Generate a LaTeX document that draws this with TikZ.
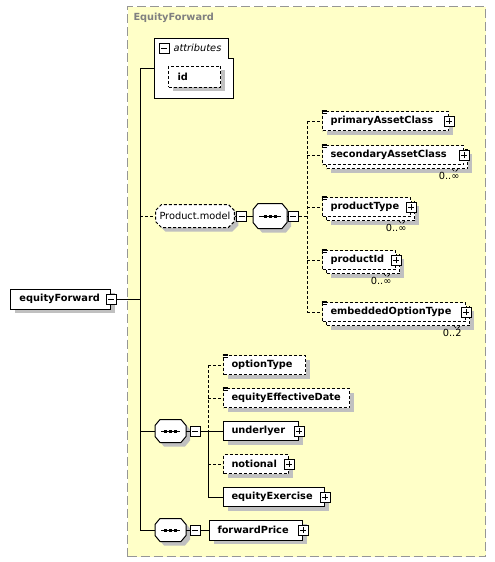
\documentclass[tikz,border=0pt]{standalone}
\usepackage{fontspec}
\setmainfont{DejaVu Sans}
\usetikzlibrary{shapes.misc,shadows}
\definecolor{bgyellow}{RGB}{255,255,200}
\definecolor{framegray}{RGB}{150,150,150}
\definecolor{shadowgray}{RGB}{192,192,192}
\definecolor{titlegray}{RGB}{128,128,128}
\newcommand\seqsym[1]{%
  \draw[fill=white,drop shadow={shadow xshift=4pt,shadow yshift=-4pt,fill=shadowgray,opacity=1}]
    ([xshift=5pt]#1.north west) -- ([xshift=-5pt]#1.north east) -- ([yshift=-6pt]#1.north east)
    -- ([yshift=6pt]#1.south east) -- ([xshift=-5pt]#1.south east) -- ([xshift=5pt]#1.south west)
    -- ([yshift=6pt]#1.south west) -- ([yshift=-6pt]#1.north west) -- cycle;
  \draw ([xshift=6pt]#1.west) -- ([xshift=-6pt]#1.east);
  \foreach \d in {-5,0,5} \fill ([xshift=\d pt]#1.center) ++(-1.5,-1.5) rectangle ++(3,3);}
\begin{document}
\begin{tikzpicture}[x=1pt,y=-1pt,line width=1pt,
  every node/.style={font=\fontsize{9.8}{11}\selectfont},
  dsh/.style={dash pattern=on 3pt off 2pt},
  shad/.style={drop shadow={shadow xshift=4pt,shadow yshift=-4pt,fill=shadowgray,opacity=1}},
  box/.style={draw=black,fill=white,anchor=west,inner ysep=0pt,inner xsep=8pt,
    minimum height=19pt,align=left,text width=#1,
    font=\bfseries\fontsize{9.8}{11}\selectfont},
  pmbox/.style={draw=black,fill=white,minimum size=10pt,inner sep=0pt,line width=1pt,solid},
  minus/.style={pmbox,path picture={
    \draw[line width=1pt] ([xshift=2pt]path picture bounding box.west) -- ([xshift=-2pt]path picture bounding box.east);}},
  plus/.style={pmbox,path picture={
    \draw[line width=1pt] ([xshift=2pt]path picture bounding box.west) -- ([xshift=-2pt]path picture bounding box.east);
    \draw[line width=1pt] ([yshift=2pt]path picture bounding box.south) -- ([yshift=-2pt]path picture bounding box.north);}},
  seqbox/.style={rectangle,inner sep=0pt,anchor=west},
  mult/.style={anchor=north east,inner sep=0pt,font=\fontsize{9.8}{11}\selectfont},
  lines icon/.pic={\draw[line width=0.6pt] (-0.5,-1) -- (4.5,-1) (-0.5,0.6) -- (4.5,0.6) (-0.5,2.2) -- (4.5,2.2);},
  notch/.pic={\draw[line width=0.7pt,dsh] (-3,0) -- (0,3) -- (3,0);}
]
\path[use as bounding box] (0,0) rectangle (495,562);
% frame
\node[draw=framegray,dash pattern=on 9pt off 4pt,fill=bgyellow,anchor=north west,
  minimum width=358pt,minimum height=550pt,inner sep=0pt] (frame) at (127,6) {};
\node[anchor=west,inner sep=0pt,text=titlegray,font=\bfseries\fontsize{9.8}{11}\selectfont] (ftitle) at (133,18) {EquityForward};

% root element
\node[box=82pt,inner xsep=9pt,minimum height=20pt,shad] (ef) at (10,299) {equityForward};
\node[minus] (efm) at (ef.east) {};
\coordinate (sp1) at (140,299);
\coordinate (vt) at (140,68);
\coordinate (vb) at (140,530);
\draw (efm.east) -- (sp1);
\draw (vt) -- (vb);

% attributes
\node[anchor=north west,minimum width=78pt,minimum height=59pt,inner sep=0pt] (attr) at (154,38) {};
\draw[fill=white] (attr.north west) -- ([xshift=-5pt]attr.north east) -- ([shift={(-5,20)}]attr.north east)
  -- ([yshift=-20pt]attr.north east) -- (attr.south east) -- (attr.south west) -- cycle;
\node[minus] (am) at (164,48) {};
\node[anchor=west,inner sep=0pt,font=\itshape\fontsize{9.8}{11}\selectfont] (atxt) at (173,48) {attributes};
\node[box=34pt,dsh,inner xsep=9pt,minimum height=21pt,shad] (id) at (168,76.5) {id};
\draw (vt) -- (vt -| attr.west);

% Product.model group
\node[chamfered rectangle,chamfered rectangle xsep=3pt,chamfered rectangle ysep=3pt,draw=black,fill=white,dsh,
  minimum width=75pt,minimum height=23pt,inner xsep=1pt,inner ysep=0pt,anchor=west,shad] (pm) at (155,216) {Product.model};
\node[minus] (pmm) at ([xshift=7pt]pm.east) {};
\draw (pm.east) -- (pmm.west);
\draw[dsh] (pm.west -| vt) -- (pm.west);

\node[seqbox,minimum width=33pt,minimum height=24pt] (s1) at (253,216) {};
\seqsym{s1}
\draw (pmm.east) -- (s1.west);
\node[minus] (s1m) at ([xshift=6pt]s1.east) {};
\draw (s1.east) -- (s1m.west);
\coordinate (c1) at (307,216);
\draw[dsh] (s1m.east) -- (c1);

% children of Product.model
\node[box=110pt,dsh,shad] (pac) at (322,121) {primaryAssetClass};
\node[plus] (pacp) at (pac.east) {};
\pic at (pac.north west) {lines icon};

\node[box=125pt,dsh,shad] (sacb) at (326,159) {};
\node[box=125pt,dsh] (sac) at (322,155) {secondaryAssetClass};
\node[plus] (sacp) at (sac.east) {};
\pic at (sac.north west) {lines icon};
\pic at ([xshift=-13pt]sacb.south east) {notch};
\node[mult] (sacm) at ([xshift=-8pt,yshift=-3pt]sacb.south east) {0..∞};

\node[box=72pt,dsh,shad] (ptb) at (326,211) {};
\node[box=72pt,dsh] (pt) at (322,207) {productType};
\node[plus] (ptp) at (pt.east) {};
\pic at (pt.north west) {lines icon};
\pic at ([xshift=-13pt]ptb.south east) {notch};
\node[mult] (ptm) at ([xshift=-8pt,yshift=-3pt]ptb.south east) {0..∞};

\node[box=57pt,dsh,shad] (pidb) at (326,264) {};
\node[box=57pt,dsh] (pid) at (322,260) {productId};
\node[plus] (pidp) at (pid.east) {};
\pic at (pid.north west) {lines icon};
\pic at ([xshift=-13pt]pidb.south east) {notch};
\node[mult] (pidm) at ([xshift=-8pt,yshift=-3pt]pidb.south east) {0..∞};

\node[box=127pt,dsh,shad] (eotb) at (326,316) {};
\node[box=127pt,dsh] (eot) at (322,312) {embeddedOptionType};
\node[plus] (eotp) at (eot.east) {};
\pic at (eot.north west) {lines icon};
\pic at ([xshift=-13pt]eotb.south east) {notch};
\node[mult] (eotm) at ([xshift=-8pt,yshift=-3pt]eotb.south east) {0..2};

\draw[dsh] (pac.west -| c1) -- (eot.west -| c1);
\draw[dsh] (pac.west -| c1) -- (pac.west);
\draw[dsh] (sac.west -| c1) -- (sac.west);
\draw[dsh] (pt.west -| c1) -- (pt.west);
\draw[dsh] (pid.west -| c1) -- (pid.west);
\draw[dsh] (eot.west -| c1) -- (eot.west);

% second sequence
\node[seqbox,minimum width=30pt,minimum height=22pt] (s2) at (155,431) {};
\seqsym{s2}
\draw (s2.west -| vt) -- (s2.west);
\node[minus] (s2m) at ([xshift=9pt]s2.east) {};
\draw (s2.east) -- (s2m.west);
\coordinate (c2) at (208,431);
\draw (s2m.east) -- (c2);

\node[box=66pt,dsh,shad] (ot) at (223,365) {optionType};
\pic at (ot.north west) {lines icon};
\node[box=110pt,dsh,shad] (eed) at (223,398) {equityEffectiveDate};
\pic at (eed.north west) {lines icon};
\node[box=59pt,shad] (und) at (223,431) {underlyer};
\node[plus] (undp) at (und.east) {};
\node[box=49pt,dsh,shad] (not) at (223,464) {notional};
\node[plus] (notp) at (not.east) {};
\node[box=85pt,shad] (ee) at (223,497) {equityExercise};
\node[plus] (eep) at (ee.east) {};

\draw[dsh] (ot.west -| c2) -- (c2);
\draw (c2) -- (ee.west -| c2);
\draw[dsh] (ot.west -| c2) -- (ot.west);
\draw[dsh] (eed.west -| c2) -- (eed.west);
\draw (und.west -| c2) -- (und.west);
\draw[dsh] (not.west -| c2) -- (not.west);
\draw (ee.west -| c2) -- (ee.west);

% third sequence
\node[seqbox,minimum width=30pt,minimum height=22pt] (s3) at (155,530) {};
\seqsym{s3}
\draw (vb) -- (s3.west);
\node[minus] (s3m) at ([xshift=9pt]s3.east) {};
\draw (s3.east) -- (s3m.west);
\node[box=77pt,minimum height=20pt,shad] (fp) at (209,530) {forwardPrice};
\node[plus] (fpp) at (fp.east) {};
\draw (s3m.east) -- (fp.west);
\end{tikzpicture}
\end{document}
